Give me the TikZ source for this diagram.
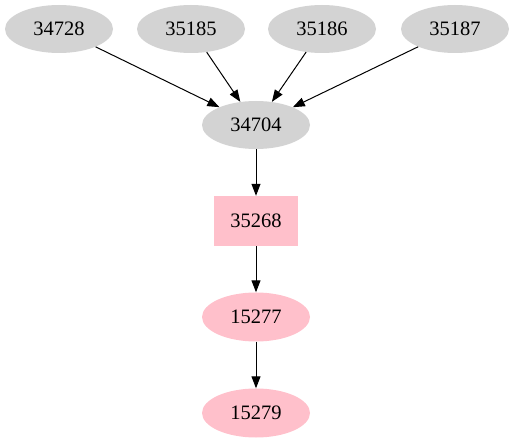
\documentclass[tikz,border=0pt]{standalone}
\usepackage{fontspec}
\setmainfont{Liberation Serif}
\usetikzlibrary{arrows.meta,shapes.geometric}
\definecolor{nodegrey}{HTML}{D3D3D3}
\definecolor{nodepink}{HTML}{FFC0CB}

\begin{document}
\begin{tikzpicture}[
			x=1pt, y=-1pt,
			font=\fontsize{20.5}{24}\selectfont,
			>={Triangle[length=12pt,width=9pt]},
			grey/.style={
				ellipse, fill=nodegrey, draw=none,
				minimum width=108pt, minimum height=48pt, inner sep=0pt
			},
			pinkoval/.style={
				ellipse, fill=nodepink, draw=none,
				minimum width=108pt, minimum height=49pt, inner sep=0pt
			},
			pinkbox/.style={
				rectangle, fill=nodepink, draw=none,
				minimum width=84pt, minimum height=50pt, inner sep=0pt
			},
			arr/.style={->, line width=1pt, black}
			]
			\useasboundingbox (0,0) rectangle (514,443);
			
			%% ── Top row ─────────────────────────────────────────────────────────
			\node[grey] (n34728) at (59,  29) {34728};
			\node[grey] (n35185) at (191, 29) {35185};
			\node[grey] (n35186) at (322, 29) {35186};
			\node[grey] (n35187) at (455, 29) {35187};
			
			%% ── Chain down the middle (x=256) ───────────────────────────────────
			\node[grey]     (n34704) at (256, 125) {34704};
			\node[pinkbox]  (n35268) at (256, 221) {35268};
			\node[pinkoval] (n15277) at (256, 317) {15277};
			\node[pinkoval] (n15279) at (256, 413) {15279};
			
			\foreach \a/\b in {n34728/n34704, n35185/n34704, n35186/n34704,
				n35187/n34704, n34704/n35268, n35268/n15277, n15277/n15279}
			\draw[arr] (\a) -- (\b);
			
		\end{tikzpicture}
\end{document}
